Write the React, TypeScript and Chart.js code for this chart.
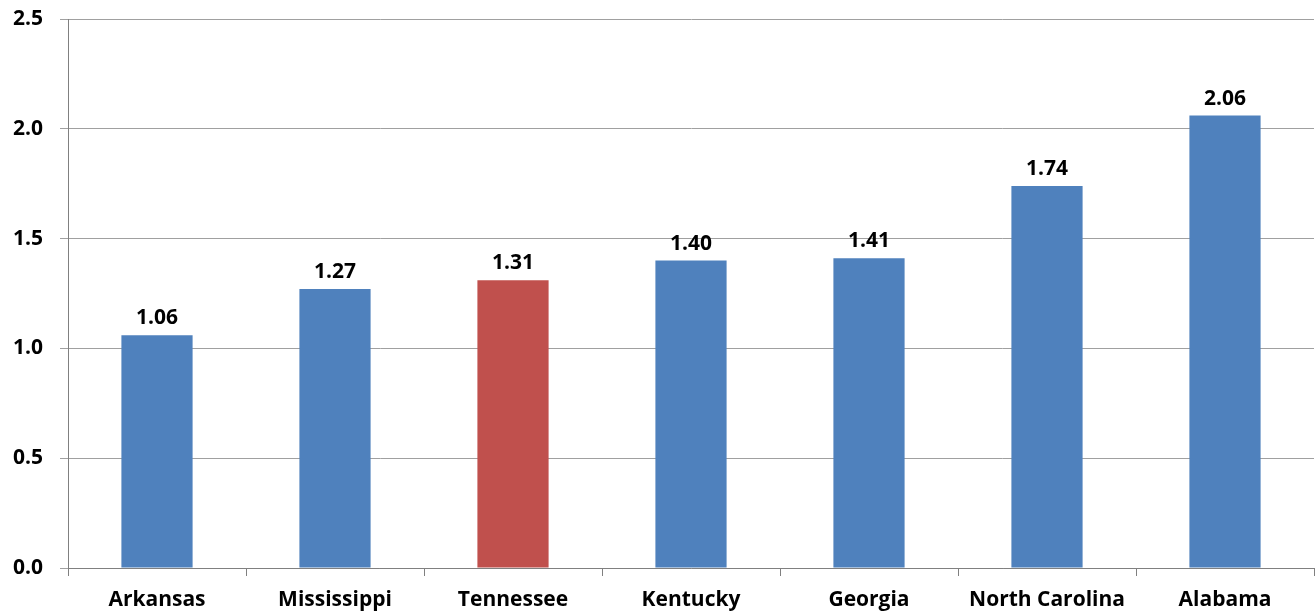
import React, { useEffect, useRef } from "react";
import { Chart, registerables } from "chart.js";

Chart.register(...registerables);

const categories = ["Arkansas", "Mississippi", "Tennessee", "Kentucky", "Georgia", "North Carolina", "Alabama"];
const values = [1.06, 1.27, 1.31, 1.4, 1.41, 1.74, 2.06];
const highlighted = "Tennessee";
const yTicks = [0, 0.5, 1.0, 1.5, 2.0, 2.5];

const BLUE = "#4F81BD";
const RED = "#C0504D";
const FONT = "'Open Sans', Lato, sans-serif";

const valueLabels = {
  id: "valueLabels",
  afterDatasetsDraw(chart: any) {
    const ctx = chart.ctx;
    const meta = chart.getDatasetMeta(0);
    ctx.save();
    ctx.font = `bold 21px ${FONT}`;
    ctx.fillStyle = "#000";
    ctx.textAlign = "center";
    ctx.textBaseline = "alphabetic";
    meta.data.forEach((bar: any, i: number) => {
      ctx.fillText(values[i].toFixed(2), bar.x, bar.y - 11);
    });
    ctx.restore();
  },
};

export default function App() {
  const ref = useRef<HTMLCanvasElement | null>(null);
  useEffect(() => {
    if (!ref.current) return;
    const chart = new Chart(ref.current, {
      type: "bar",
      data: {
        labels: categories,
        datasets: [
          {
            data: values,
            backgroundColor: categories.map((c) => (c === highlighted ? RED : BLUE)),
            barPercentage: 0.4,
            categoryPercentage: 1,
          },
        ],
      },
      options: {
        animation: false,
        responsive: false,
        layout: { padding: { top: 19, right: 1, left: 0, bottom: 0 } },
        plugins: { legend: { display: false }, tooltip: { enabled: false } },
        scales: {
          x: {
            grid: { drawOnChartArea: false, drawTicks: true, tickLength: 8, offset: true, color: "#808080" },
            border: { color: "#808080" },
            ticks: { color: "#000", font: { family: FONT, weight: "bold", size: 21 }, padding: 11 },
            afterFit(scale: any) {
              scale.height = 46;
            },
          },
          y: {
            min: 0,
            max: 2.5,
            afterBuildTicks(scale: any) {
              scale.ticks = yTicks.map((v) => ({ value: v }));
            },
            grid: { color: "#A0A0A0", tickLength: 8 },
            border: { color: "#808080" },
            ticks: {
              color: "#000",
              font: { family: FONT, weight: "bold", size: 21, lineHeight: 1 },
              padding: 17,
              callback: (v: any) => Number(v).toFixed(1),
            },
            afterFit(scale: any) {
              scale.width = 68;
              scale.paddingTop = 0;
              scale.paddingBottom = 0;
            },
          },
        },
      },
      plugins: [valueLabels],
    });
    return () => chart.destroy();
  }, []);
  return (
    <div style={{ position: "fixed", left: 0, top: 0, width: 1315, height: 614 }}>
      <canvas ref={ref} width={1315} height={614} style={{ width: 1315, height: 614 }} />
    </div>
  );
}
